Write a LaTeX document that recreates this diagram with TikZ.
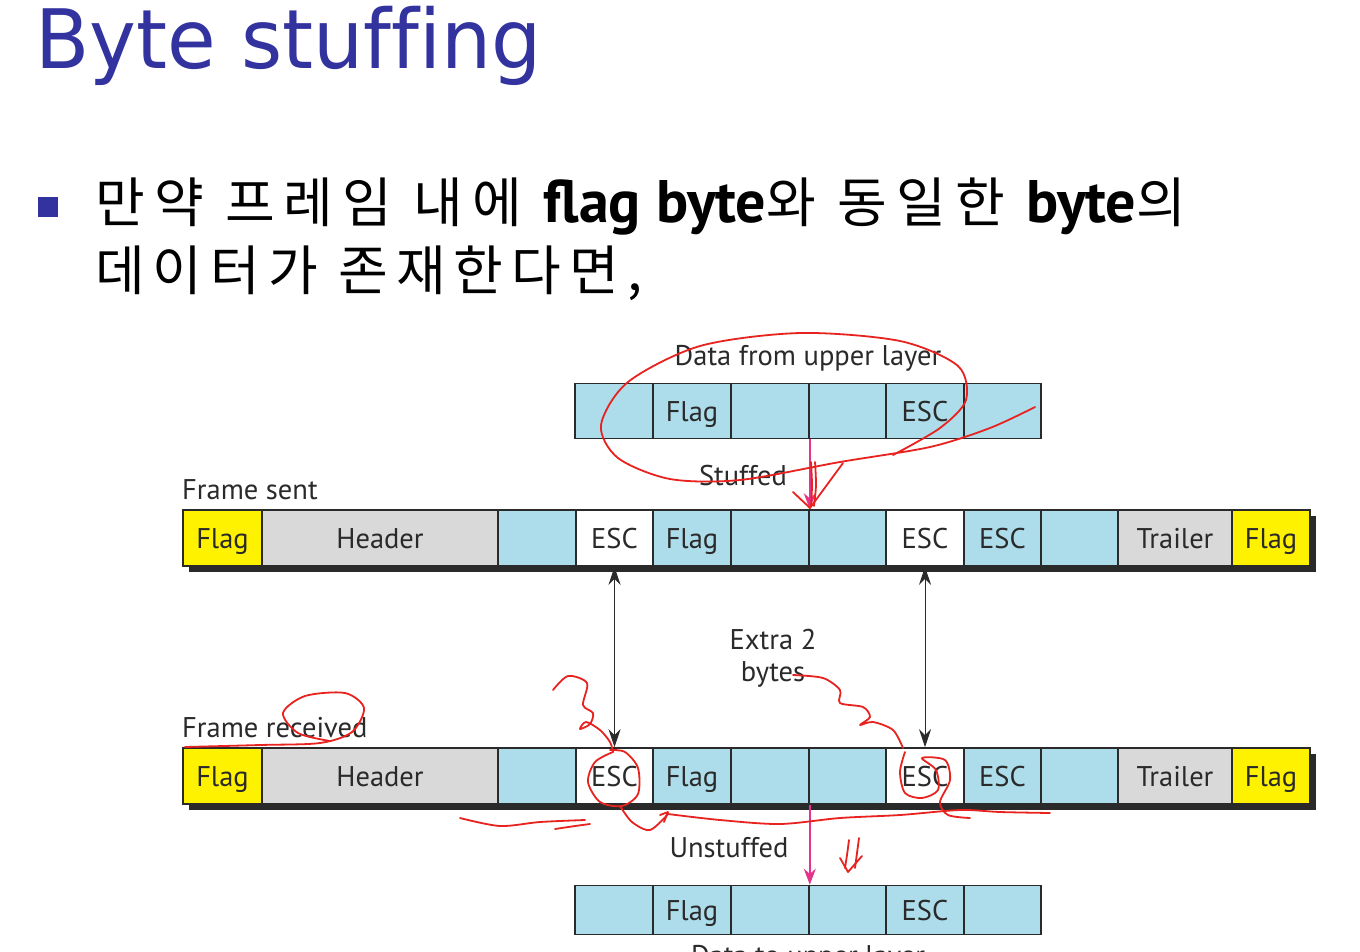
\documentclass[tikz,border=0pt]{standalone}
\usepackage{fontspec}
\setmainfont{PT Sans}
\newfontfamily\krfont{Noto Sans CJK KR}
\newfontfamily\titlefont[Ligatures=NoCommon]{DejaVu Sans}
\usetikzlibrary{arrows.meta}
\definecolor{titleblue}{HTML}{3333A0}
\definecolor{cellblue}{HTML}{ADDCEA}
\definecolor{flagyellow}{HTML}{FFF200}
\definecolor{hdrgray}{HTML}{D9D9D9}
\definecolor{pinkarrow}{HTML}{E6338C}
\definecolor{pen}{HTML}{E8231F}
\definecolor{ink}{HTML}{2A2A2A}

\tikzset{
  cell/.style={draw=ink, line width=1.6pt, inner sep=0pt, text=ink,
    font=\fontsize{28.5}{28.5}\selectfont, text height=21pt, text depth=0pt},
  lbl/.style={text=ink, inner sep=0pt, font=\fontsize{28.5}{32}\selectfont},
  link/.style={draw=ink, line width=1pt, {Stealth[length=18pt,width=12pt]}-{Stealth[length=18pt,width=12pt]}},
  pinklink/.style={draw=pinkarrow, line width=1.8pt, -{Stealth[length=16pt,width=12pt]}},
  penline/.style={draw=pen, line width=1.8pt, line cap=round, line join=round}
}
\newcommand{\latinbold}[1]{{\rmfamily\bfseries\fontsize{60}{60}\selectfont #1}}

\begin{document}
\begin{tikzpicture}[x=1pt,y=-1pt]
\useasboundingbox (0,0) rectangle (1360,951);
\clip (0,0) rectangle (1360,951);
\fill[white] (0,0) rectangle (1360,951);

% heading and bullet text
\node[anchor=base west, inner sep=0pt, text=titleblue] (title) at (35,68)
  {\scalebox{0.965}[1]{\titlefont\fontsize{82}{82}\selectfont Byte stuffing}};
\fill[titleblue] (38,197) rectangle (58,217);
\node[anchor=base west, inner sep=0pt, text=black] (line1) at (95,222)
  {\krfont\fontsize{54}{60}\selectfont\addfontfeature{LetterSpace=17}만약 프레임 내에 \latinbold{flag byte}와 동일한 \latinbold{byte}의};
\node[anchor=base west, inner sep=0pt, text=black] (line2) at (95,290)
  {\krfont\fontsize{54}{60}\selectfont\addfontfeature{LetterSpace=15}데이터가 존재한다면,};

% data from the upper layer
\foreach \n/\a/\b/\t in {1/575/653/, 2/653/731/Flag, 3/731/809/, 4/809/886/, 5/886/964/ESC, 6/964/1041/}
  \node[cell, fill=cellblue, minimum width={(\b-\a)*1pt}, minimum height=55pt] (d\n) at ({(\a+\b)/2},411) {\t};
\node[lbl] (dlabel) at (808,358) {Data from upper layer};

% frame sent
\fill[ink] (189,516) rectangle (1316,572);
\foreach \n/\a/\b/\c/\t in {1/183/262/flagyellow/Flag, 2/262/498/hdrgray/Header, 3/498/576/cellblue/,
    4/576/653/white/ESC, 5/653/731/cellblue/Flag, 6/731/809/cellblue/, 7/809/886/cellblue/,
    8/886/964/white/ESC, 9/964/1041/cellblue/ESC, 10/1041/1118/cellblue/, 11/1118/1232/hdrgray/Trailer,
    12/1232/1310/flagyellow/Flag}
  \node[cell, fill=\c, minimum width={(\b-\a)*1pt}, minimum height=56pt] (s\n) at ({(\a+\b)/2},538) {\t};
\node[lbl, anchor=base west] (slabel) at (182,499) {Frame sent};

% frame received
\fill[ink] (189,754) rectangle (1316,810);
\foreach \n/\a/\b/\c/\t in {1/183/262/flagyellow/Flag, 2/262/498/hdrgray/Header, 3/498/576/cellblue/,
    4/576/653/white/ESC, 5/653/731/cellblue/Flag, 6/731/809/cellblue/, 7/809/886/cellblue/,
    8/886/964/white/ESC, 9/964/1041/cellblue/ESC, 10/1041/1118/cellblue/, 11/1118/1232/hdrgray/Trailer,
    12/1232/1310/flagyellow/Flag}
  \node[cell, fill=\c, minimum width={(\b-\a)*1pt}, minimum height=56pt] (r\n) at ({(\a+\b)/2},776) {\t};
\node[lbl, anchor=base west] (rlabel) at (182,737) {Frame received};

% data to the upper layer
\foreach \n/\a/\b/\t in {1/575/653/, 2/653/731/Flag, 3/731/809/, 4/809/886/, 5/886/964/ESC, 6/964/1041/}
  \node[cell, fill=cellblue, minimum width={(\b-\a)*1pt}, minimum height=49pt] (u\n) at ({(\a+\b)/2},910) {\t};
\node[lbl] (ulabel) at (808,958) {Data to upper layer};

% connectors
\draw[pinklink] (d3.south east) -- (s6.north east);
\node[lbl] (stuffed) at (743,476) {Stuffed};
\draw[link] (s4.south) -- (r4.north);
\draw[link] (s8.south) -- (r8.north);
\node[lbl, align=center] (extra) at (773,658) {Extra 2\\bytes};
\draw[pinklink] (r6.south east) -- (u3.north east);
\node[lbl] (unstuffed) at (729,848) {Unstuffed};

% handwritten pen marks
\draw[penline] plot[smooth] coordinates {(1035,407) (990,428) (930,447) (840,462) (740,480) (670,479)
  (618,458) (601,425) (628,382) (700,346) (800,333) (900,341) (958,366) (966,400) (940,428) (893,455)};
\draw[penline] plot[smooth] coordinates {(811,462) (812,485) (811,506)};
\draw[penline] plot[smooth] coordinates {(815,462) (816,485) (814,506)};
\draw[penline] (793,492) -- (810,508) -- (843,463);

\draw[penline] plot[smooth] coordinates {(185,747) (260,745) (320,743) (352,732) (364,708) (345,693)
  (305,696) (283,713) (298,733) (330,741)};

\draw[penline] plot[smooth] coordinates {(553,690) (568,676) (587,683) (583,705) (593,713) (590,724)
  (580,729) (586,722) (600,730) (610,742) (613,752)};
\draw[penline] plot[smooth] coordinates {(613,752) (595,762) (588,782) (600,802) (622,806) (638,794)
  (638,768) (625,752) (610,750)};
\draw[penline] plot[smooth] coordinates {(620,806) (632,822) (650,830) (668,814)};
\draw[penline] (660,815) -- (668,812) -- (664,822);
\draw[penline] plot[smooth] coordinates {(668,814) (720,820) (780,824) (840,818) (900,815) (960,810)
  (1000,812) (1050,813)};
\draw[penline] plot[smooth] coordinates {(460,818) (500,826) (540,822) (585,820)};
\draw[penline] plot[smooth] coordinates {(555,829) (575,826) (590,824)};

\draw[penline] plot[smooth] coordinates {(793,675) (823,678) (840,690) (840,703) (863,707) (870,717)
  (860,725) (873,722) (893,730) (903,748)};
\draw[penline] plot[smooth] coordinates {(905,752) (900,772) (905,793) (922,798) (938,790) (936,770)
  (922,758) (945,760) (950,780) (940,802) (948,815) (970,818)};

\draw[penline] plot[smooth] coordinates {(849,840) (847,855) (845,868)};
\draw[penline] plot[smooth] coordinates {(859,838) (857,853) (855,868)};
\draw[penline] (840,858) -- (848,872) -- (862,856);
\end{tikzpicture}
\end{document}
